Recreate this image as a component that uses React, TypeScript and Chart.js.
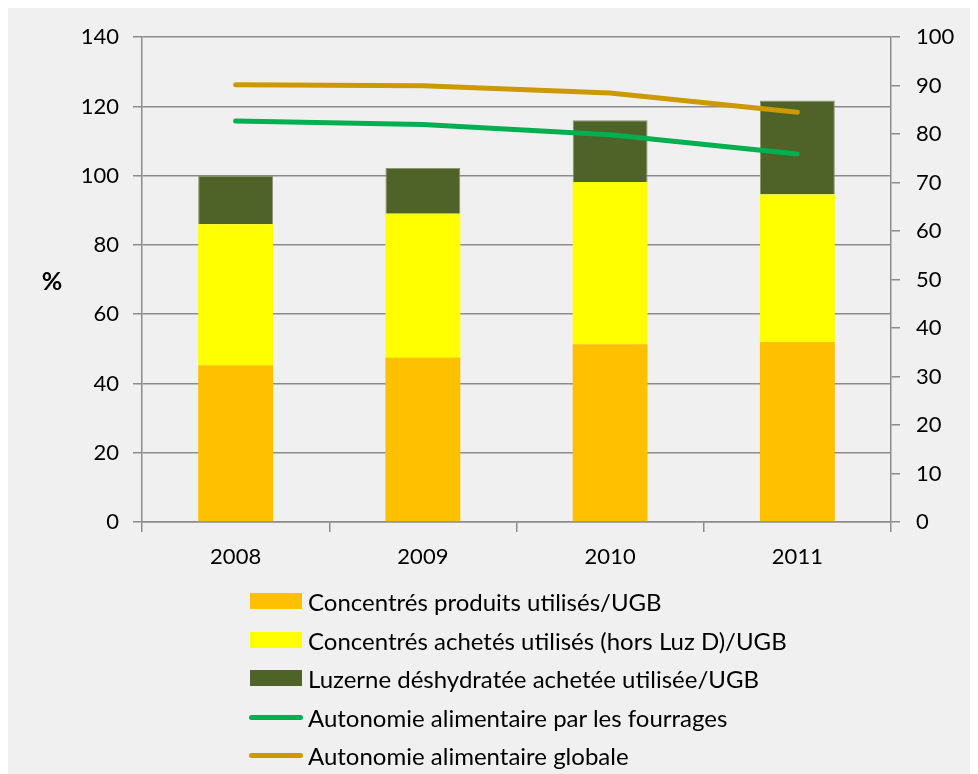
import React, { useEffect, useRef } from "react";
import { Chart, registerables } from "chart.js";

Chart.register(...registerables);

const years = ["2008", "2009", "2010", "2011"];
const concentresProduits = [45.3, 47.5, 51.3, 52];
const concentresAchetes = [40.7, 41.5, 46.9, 42.6];
const luzerne = [14, 13.2, 17.8, 27.1];
const autonomieFourrages = [82.7, 82.0, 79.9, 75.9];
const autonomieGlobale = [90.2, 90.0, 88.5, 84.5];

const leftTicks = { min: 0, max: 140, step: 20 };
const rightTicks = { min: 0, max: 100, step: 10 };

const labels = {
  produits: "Concentrés produits utilisés/UGB",
  achetes: "Concentrés achetés utilisés (hors Luz D)/UGB",
  luzerne: "Luzerne déshydratée achetée utilisée/UGB",
  fourrages: "Autonomie alimentaire par les fourrages",
  globale: "Autonomie alimentaire globale",
};

const colors = {
  produits: "#ffc000",
  achetes: "#ffff00",
  luzerne: "#4f6228",
  fourrages: "#00b050",
  globale: "#cc9900",
};

const FONT = "Lato, 'Open Sans', sans-serif";
const GRID = "#8c8c8c";

const legendItems = [
  { label: labels.produits, color: colors.produits, kind: "box" },
  { label: labels.achetes, color: colors.achetes, kind: "box" },
  { label: labels.luzerne, color: colors.luzerne, kind: "box" },
  { label: labels.fourrages, color: colors.fourrages, kind: "line" },
  { label: labels.globale, color: colors.globale, kind: "line" },
];

export default function App() {
  const ref = useRef<HTMLCanvasElement | null>(null);

  useEffect(() => {
    if (!ref.current) return;
    const chart = new Chart(ref.current, {
      type: "bar",
      data: {
        labels: years,
        datasets: [
          {
            type: "line",
            label: labels.fourrages,
            data: autonomieFourrages,
            yAxisID: "y1",
            borderColor: colors.fourrages,
            backgroundColor: colors.fourrages,
            borderWidth: 5,
            borderCapStyle: "round",
            borderJoinStyle: "round",
            pointRadius: 0,
            tension: 0,
            order: 0,
          },
          {
            type: "line",
            label: labels.globale,
            data: autonomieGlobale,
            yAxisID: "y1",
            borderColor: colors.globale,
            backgroundColor: colors.globale,
            borderWidth: 5,
            borderCapStyle: "round",
            borderJoinStyle: "round",
            pointRadius: 0,
            tension: 0,
            order: 0,
          },
          {
            type: "bar",
            label: labels.produits,
            data: concentresProduits,
            backgroundColor: colors.produits,
            stack: "s",
            yAxisID: "y",
            barPercentage: 0.4,
            categoryPercentage: 1,
            order: 1,
          },
          {
            type: "bar",
            label: labels.achetes,
            data: concentresAchetes,
            backgroundColor: colors.achetes,
            stack: "s",
            yAxisID: "y",
            barPercentage: 0.4,
            categoryPercentage: 1,
            order: 1,
          },
          {
            type: "bar",
            label: labels.luzerne,
            data: luzerne,
            backgroundColor: colors.luzerne,
            borderColor: "#8a9670",
            borderWidth: 1,
            stack: "s",
            yAxisID: "y",
            barPercentage: 0.4,
            categoryPercentage: 1,
            order: 1,
          },
        ],
      },
      options: {
        responsive: false,
        animation: false,
        devicePixelRatio: 1,
        layout: { padding: { top: 29, left: 0, right: 0, bottom: 0 } },
        plugins: {
          legend: { display: false },
          tooltip: { enabled: false },
        },
        scales: {
          x: {
            stacked: true,
            offset: true,
            afterFit: (s: any) => {
              s.height = 66;
            },
            grid: {
              display: true,
              drawOnChartArea: false,
              drawTicks: true,
              tickLength: 10,
              offset: true,
              color: GRID,
              lineWidth: 1.5,
            },
            border: { display: true, color: GRID, width: 1.5 },
            ticks: {
              color: "#000",
              font: { family: FONT, size: 22 },
              padding: 12,
              maxRotation: 0,
            },
          },
          y: {
            position: "left",
            stacked: true,
            min: leftTicks.min,
            max: leftTicks.max,
            afterFit: (s: any) => {
              s.width = 134;
            },
            grid: {
              color: GRID,
              lineWidth: 1.5,
              drawTicks: true,
              tickLength: 9,
            },
            border: { display: true, color: GRID, width: 1.5 },
            ticks: {
              stepSize: leftTicks.step,
              color: "#000",
              font: { family: FONT, size: 22 },
              padding: 14,
            },
          },
          y1: {
            position: "right",
            min: rightTicks.min,
            max: rightTicks.max,
            afterFit: (s: any) => {
              s.width = 87;
            },
            grid: {
              drawOnChartArea: false,
              color: GRID,
              lineWidth: 1.5,
              drawTicks: true,
              tickLength: 9,
            },
            border: { display: true, color: GRID, width: 1.5 },
            ticks: {
              stepSize: rightTicks.step,
              color: "#000",
              font: { family: FONT, size: 22 },
              padding: 16,
            },
          },
        },
      },
    } as any);
    return () => chart.destroy();
  }, []);

  const rowCenters = [593, 632, 670, 709, 747];

  return (
    <div
      style={{
        position: "relative",
        width: 970,
        height: 766,
        background: "#f0f0f0",
        fontFamily: FONT,
        overflow: "hidden",
      }}
    >
      <canvas ref={ref} width={970} height={580} style={{ display: "block" }} />
      <div
        style={{
          position: "absolute",
          left: 32,
          top: 256,
          width: 24,
          height: 32,
          lineHeight: "32px",
          fontSize: 25,
          fontWeight: 700,
          textAlign: "center",
          color: "#000",
        }}
      >
        %
      </div>
      {legendItems.map((it, i) => (
        <div
          key={it.label}
          style={{
            position: "absolute",
            left: 240,
            top: rowCenters[i] - 19,
            height: 38,
            display: "flex",
            alignItems: "center",
            whiteSpace: "nowrap",
          }}
        >
          {it.kind === "box" ? (
            <span
              style={{
                display: "inline-block",
                width: 52,
                height: 16,
                marginLeft: 2,
                marginRight: 6,
                background: it.color,
              }}
            />
          ) : (
            <span
              style={{
                display: "inline-block",
                width: 54,
                height: 5,
                marginLeft: 1,
                marginRight: 5,
                borderRadius: 3,
                background: it.color,
              }}
            />
          )}
          <span style={{ fontSize: 24, color: "#000" }}>{it.label}</span>
        </div>
      ))}
    </div>
  );
}
